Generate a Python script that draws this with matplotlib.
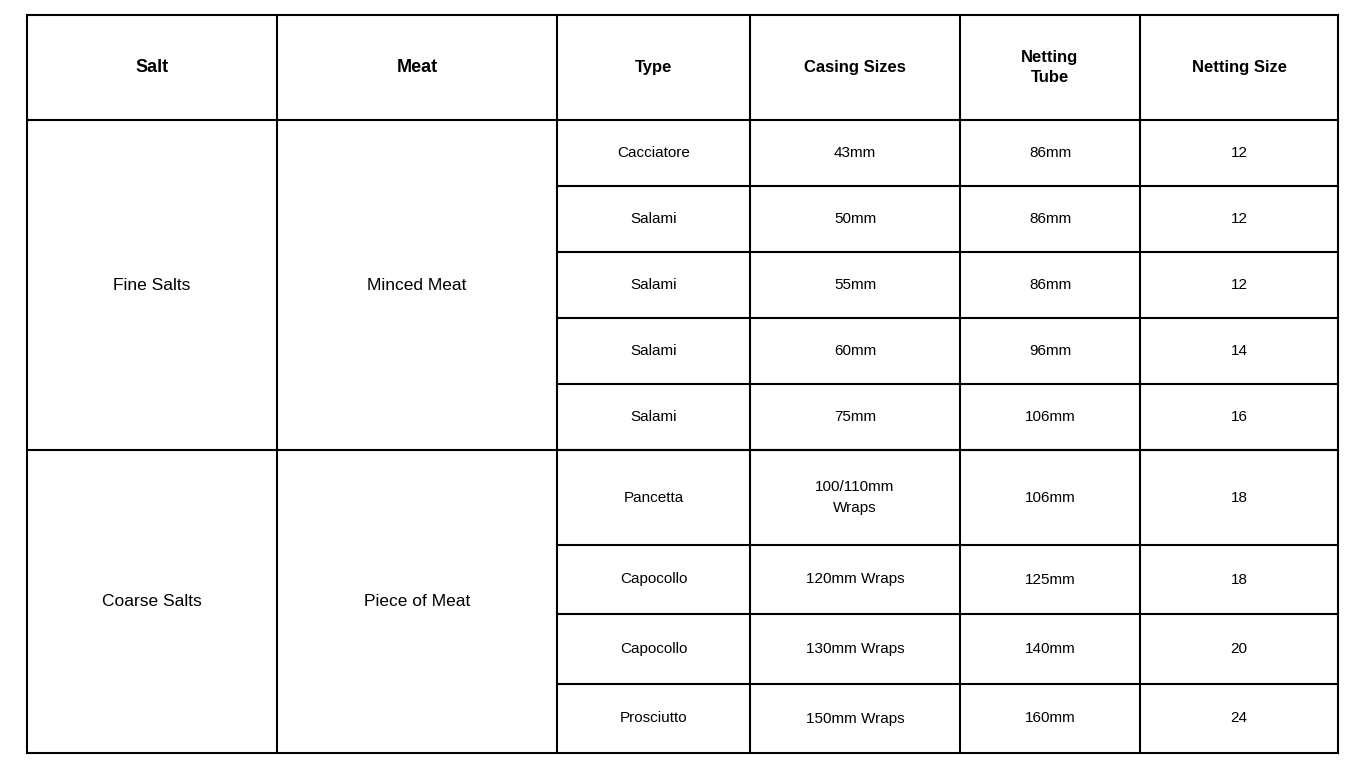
import matplotlib
matplotlib.use("Agg")
import matplotlib.pyplot as plt

headers = ["Salt", "Meat", "Type", "Casing Sizes", "Netting\nTube", "Netting Size"]
salt_groups = ["Fine Salts", "Coarse Salts"]
meat_groups = ["Minced Meat", "Piece of Meat"]
group_sizes = [5, 4]
types = ["Cacciatore", "Salami", "Salami", "Salami", "Salami",
         "Pancetta", "Capocollo", "Capocollo", "Prosciutto"]
casing = ["43mm", "50mm", "55mm", "60mm", "75mm",
          "100/110mm\nWraps", "120mm Wraps", "130mm Wraps", "150mm Wraps"]
tube = ["86mm", "86mm", "86mm", "96mm", "106mm",
        "106mm", "125mm", "140mm", "160mm"]
netsize = ["12", "12", "12", "14", "16", "18", "18", "20", "24"]

xs = [27, 277, 557, 750, 960, 1140, 1338]
ys = [15, 120, 186, 252, 318, 384, 450, 545, 614, 684, 753]

plt.rcParams['font.family'] = ['Liberation Sans', 'DejaVu Sans']
fig = plt.figure(figsize=(13.66, 7.68), dpi=100)
ax = fig.add_axes([0, 0, 1, 1])
ax.set_xlim(0, 1366); ax.set_ylim(768, 0); ax.axis('off')

lw = 1.5
# outer box and header
for x in xs:
    ax.plot([x, x], [ys[0], ys[-1]], color='black', lw=lw, solid_capstyle='projecting')
ax.plot([xs[0], xs[-1]], [ys[0]]*2, color='black', lw=lw)
ax.plot([xs[0], xs[-1]], [ys[1]]*2, color='black', lw=lw)
ax.plot([xs[0], xs[-1]], [ys[-1]]*2, color='black', lw=lw)
# group boundary
gb = ys[1 + group_sizes[0]]
ax.plot([xs[0], xs[-1]], [gb]*2, color='black', lw=lw)
# inner row lines
for y in ys[2:-1]:
    ax.plot([xs[2], xs[-1]], [y]*2, color='black', lw=lw)

def cx(i): return (xs[i] + xs[i+1]) / 2
hy = (ys[0] + ys[1]) / 2
for i, h in enumerate(headers):
    ax.text(cx(i), hy, h, ha='center', va='center', fontweight='bold',
            fontsize=13 if i < 2 else 12, linespacing=1.35)

start = 1
for g in range(len(group_sizes)):
    y0, y1 = ys[start], ys[start + group_sizes[g]]
    ax.text(cx(0), (y0+y1)/2, salt_groups[g], ha='center', va='center', fontsize=12.5)
    ax.text(cx(1), (y0+y1)/2, meat_groups[g], ha='center', va='center', fontsize=12.5)
    start += group_sizes[g]

for r in range(len(types)):
    yc = (ys[r+1] + ys[r+2]) / 2
    for i, v in zip(range(2, 6), [types[r], casing[r], tube[r], netsize[r]]):
        ax.text(cx(i), yc, v, ha='center', va='center', fontsize=11, linespacing=1.6)

fig.savefig("out.png", dpi=100)
